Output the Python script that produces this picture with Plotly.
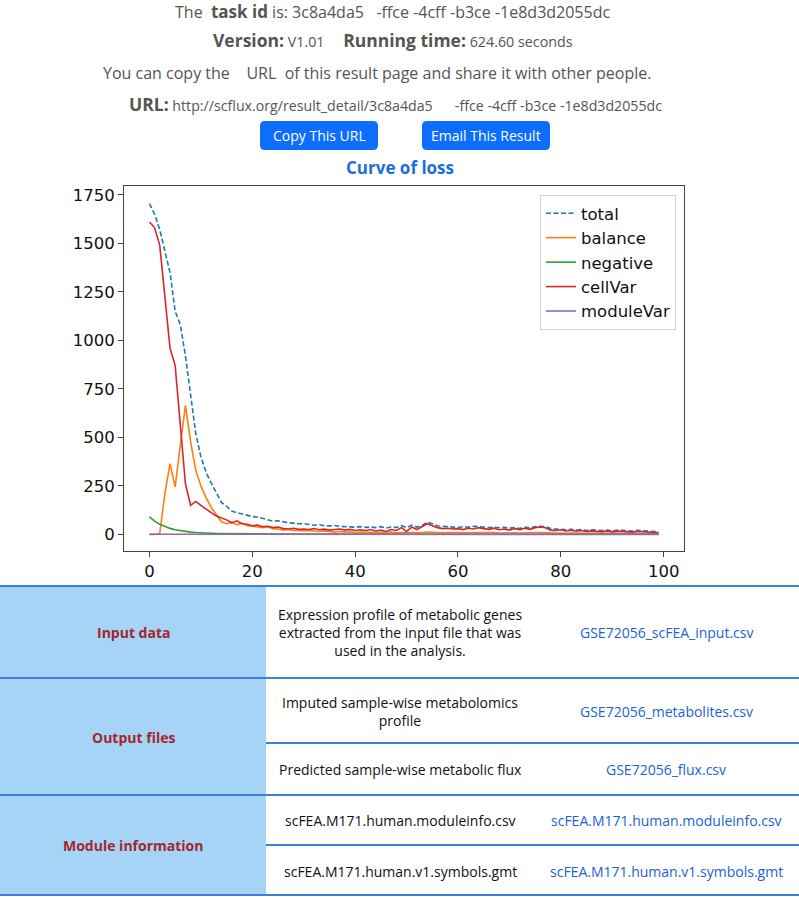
import plotly.graph_objects as go

W, H = 799, 897

# loss curves (epoch 0..99)
epochs = list(range(100))

total = [1705, 1650, 1570, 1460, 1350, 1150, 1080, 920, 720, 520,
         400, 320, 265, 215, 165, 145, 120, 112, 105, 97,
         92, 90, 82, 74, 68, 70, 64, 60, 58, 55,
         56, 50, 47, 50, 45, 44, 46, 42, 40, 41,
         37, 40, 36, 38, 35, 40, 33, 38, 36, 45,
         35, 48, 38, 45, 63, 55, 45, 42, 40, 38,
         36, 40, 37, 42, 40, 38, 35, 38, 34, 36,
         32, 35, 30, 38, 33, 40, 42, 40, 30, 28,
         26, 24, 26, 22, 25, 20, 24, 21, 20, 22,
         18, 22, 20, 19, 17, 21, 18, 16, 15, 14]

balance = [0, 0, 5, 210, 365, 245, 460, 665, 480, 330,
           250, 190, 140, 105, 65, 55, 62, 50, 58, 45,
           42, 38, 35, 40, 30, 28, 22, 25, 20, 22,
           18, 20, 16, 15, 18, 14, 12, 15, 12, 14,
           10, 12, 10, 11, 9, 10, 9, 12, 8, 10,
           9, 8, 10, 9, 12, 10, 9, 8, 10, 9,
           8, 10, 9, 8, 9, 10, 8, 9, 7, 8,
           9, 8, 7, 9, 8, 10, 9, 8, 7, 8,
           7, 6, 7, 6, 7, 6, 6, 7, 5, 6,
           6, 5, 6, 5, 5, 6, 5, 5, 4, 4]

negative = [90, 68, 52, 40, 31, 24, 19, 15, 12, 10,
            8, 7, 6, 5, 4.5, 4, 3.5, 3, 3, 2.5,
            2.5, 2.2, 2, 2, 1.9, 1.8, 1.7, 1.6, 1.5, 1.5,
            1.4, 1.4, 1.3, 1.3, 1.2, 1.2, 1.2, 1.1, 1.1, 1.1,
            1, 1, 1, 1, 1, 1, 1, 1, 1, 1,
            1, 1, 1, 1, 1, 1, 1, 1, 1, 1,
            1, 1, 1, 1, 1, 1, 1, 1, 1, 1,
            1, 1, 1, 1, 1, 1, 1, 1, 1, 1,
            1, 1, 1, 1, 1, 1, 1, 1, 1, 1,
            1, 1, 1, 1, 1, 1, 1, 1, 1, 1]

cell_var = [1610, 1580, 1490, 1220, 960, 870, 565, 260, 150, 170,
            150, 130, 112, 95, 85, 75, 60, 70, 55, 52,
            45, 48, 40, 42, 35, 38, 30, 28, 32, 26,
            28, 25, 30, 24, 27, 22, 25, 28, 22, 26,
            20, 24, 20, 25, 18, 22, 15, 25, 20, 35,
            15, 38, 25, 40, 55, 45, 35, 30, 32, 28,
            30, 25, 32, 28, 35, 30, 26, 32, 24, 28,
            22, 30, 25, 32, 26, 35, 38, 34, 22, 20,
            24, 18, 22, 16, 20, 15, 18, 16, 14, 18,
            13, 17, 15, 14, 12, 16, 13, 11, 10, 10]

module_var = [0.6, 0.6, 0.5, 0.5, 0.5, 0.5, 0.5, 0.5, 0.5, 0.5,
              0.5, 0.5, 0.5, 0.5, 0.5, 0.5, 0.5, 0.5, 0.5, 0.5,
              0.4, 0.4, 0.4, 0.4, 0.4, 0.4, 0.4, 0.4, 0.4, 0.4,
              0.4, 0.4, 0.4, 0.4, 0.4, 0.4, 0.4, 0.4, 0.4, 0.4,
              0.4, 0.4, 0.4, 0.4, 0.4, 0.4, 0.4, 0.4, 0.4, 0.4,
              0.3, 0.3, 0.3, 0.3, 0.3, 0.3, 0.3, 0.3, 0.3, 0.3,
              0.3, 0.3, 0.3, 0.3, 0.3, 0.3, 0.3, 0.3, 0.3, 0.3,
              0.3, 0.3, 0.3, 0.3, 0.3, 0.3, 0.3, 0.3, 0.3, 0.3,
              0.3, 0.3, 0.3, 0.3, 0.3, 0.3, 0.3, 0.3, 0.3, 0.3,
              0.3, 0.3, 0.3, 0.3, 0.3, 0.3, 0.3, 0.3, 0.3, 0.3]

series_names = ['total', 'balance', 'negative', 'cellVar', 'moduleVar']
series_colors = ['#1f77b4', '#ff7f0e', '#2ca02c', '#d62728', '#9467bd']

x_ticks = [0, 20, 40, 60, 80, 100]
y_ticks = [0, 250, 500, 750, 1000, 1250, 1500, 1750]

# table text
row_labels = ['Input data', 'Output files', 'Module information']
file_desc = ['Expression profile of metabolic genes<br>extracted from the input file that was<br>used in the analysis.',
             'Imputed sample-wise metabolomics<br>profile',
             'Predicted sample-wise metabolic flux',
             'scFEA.M171.human.moduleinfo.csv',
             'scFEA.M171.human.v1.symbols.gmt']
file_names = ['GSE72056_scFEA_input.csv', 'GSE72056_metabolites.csv',
              'GSE72056_flux.csv', 'scFEA.M171.human.moduleinfo.csv',
              'scFEA.M171.human.v1.symbols.gmt']


def px(x):
    return x / W


def py(y):
    return 1 - y / H


PAGE_FONT = 'Open Sans'
GREY = '#555555'
BLUE_BTN = '#0d6efd'
LINK = '#1a62d6'
LABEL_RED = '#a3262d'
TABLE_LINE = '#3f7fd6'

fig = go.Figure()

all_series = [total, balance, negative, cell_var, module_var]
for name, color, vals in zip(series_names, series_colors, all_series):
    fig.add_trace(go.Scatter(
        x=epochs, y=vals, name=name, mode='lines',
        line=dict(color=color, width=1.6,
                  dash='5px,2.5px' if name == 'total' else 'solid')))

fig.update_layout(
    width=W, height=H,
    margin=dict(l=0, r=0, t=0, b=0),
    paper_bgcolor='white', plot_bgcolor='white',
    font=dict(family='DejaVu Sans', color='#111'),
    showlegend=True,
    legend=dict(x=px(676), y=py(195), xanchor='right', yanchor='top',
                bgcolor='white', bordercolor='#d4d4d4', borderwidth=1,
                font=dict(family='DejaVu Sans', size=16.5, color='#111'),
                tracegroupgap=0),
    xaxis=dict(domain=[px(124), px(684)], range=[-4.95, 103.95],
               tickvals=x_ticks, showgrid=False, zeroline=False,
               showline=True, mirror=True, linecolor='#444', linewidth=1,
               ticks='outside', ticklen=5, tickcolor='#444',
               tickfont=dict(size=16.5, color='#111')),
    yaxis=dict(domain=[py(551), py(186)], range=[-85.5, 1795.5],
               tickvals=y_ticks, showgrid=False, zeroline=False,
               showline=True, mirror=True, linecolor='#444', linewidth=1,
               ticks='outside', ticklen=5, tickcolor='#444',
               tickfont=dict(size=16.5, color='#111')),
)


def note(text, x, y, size, color=GREY, family=PAGE_FONT, xanchor='center'):
    fig.add_annotation(text=text, x=px(x), y=py(y), xref='paper', yref='paper',
                       xanchor=xanchor, yanchor='middle', showarrow=False,
                       font=dict(family=family, size=size, color=color))


nb = '\u00a0'
# header lines
note('The' + nb * 2 + '<b><span style="font-size:17px">task id</span></b> is: 3c8a4da5'
     + nb * 3 + '-ffce -4cff -b3ce -1e8d3d2055dc', 392, 11, 16)
note('<b><span style="font-size:17.5px">Version:</span></b> V1.01' + nb * 5
     + '<b><span style="font-size:17.5px">Running time:</span></b> 624.60 seconds', 393, 40, 14.3)
note('You can copy the' + nb * 4 + 'URL' + nb * 2
     + 'of this result page and share it with other people.', 377, 73, 16)
note('<b><span style="font-size:17.5px">URL:</span></b> http://scflux.org/result_detail/3c8a4da5'
     + nb * 6 + '-ffce -4cff -b3ce -1e8d3d2055dc', 395, 104, 14.2)


def rounded_rect(x0, y0, x1, y1, r):
    rx, ry = r / W, r / H
    a0, a1 = px(x0), px(x1)
    b0, b1 = py(y1), py(y0)
    return (f'M {a0 + rx},{b0} L {a1 - rx},{b0} Q {a1},{b0} {a1},{b0 + ry} '
            f'L {a1},{b1 - ry} Q {a1},{b1} {a1 - rx},{b1} '
            f'L {a0 + rx},{b1} Q {a0},{b1} {a0},{b1 - ry} '
            f'L {a0},{b0 + ry} Q {a0},{b0} {a0 + rx},{b0} Z')


for label, (x0, x1) in zip(['Copy This URL', 'Email This Result'], [(260, 378), (422, 550)]):
    fig.add_shape(type='path', path=rounded_rect(x0, 121, x1, 150, 5),
                  xref='paper', yref='paper', fillcolor=BLUE_BTN, line=dict(width=0),
                  layer='below')
    note(label, (x0 + x1) / 2, 136, 14, color='white')

note('<b>Curve of loss</b>', 400, 167, 17, color='#1b6fd8')

# table
fig.add_shape(type='rect', x0=0, x1=px(266), y0=py(895), y1=py(586),
              xref='paper', yref='paper', fillcolor='#a6d4f6', line=dict(width=0),
              layer='below')
for y in [586, 678, 795, 895]:
    fig.add_shape(type='line', x0=0, x1=1, y0=py(y), y1=py(y), xref='paper',
                  yref='paper', line=dict(color=TABLE_LINE, width=2))
for y in [743, 845]:
    fig.add_shape(type='line', x0=px(266), x1=1, y0=py(y), y1=py(y), xref='paper',
                  yref='paper', line=dict(color=TABLE_LINE, width=2))

for label, y in zip(row_labels, [632, 737, 845]):
    note('<b>' + label + '</b>', 133, y, 14, color=LABEL_RED)

for desc, fname, y in zip(file_desc, file_names, [632, 711, 769, 820, 871]):
    note(desc, 400, y, 14, color='#111')
    note(fname, 666, y, 14, color=LINK)

# the page is a full-window layout, so drop the browser's default body margin
fig.write_html("out.html", config={'displayModeBar': False},
               post_script="document.body.style.margin = '0px';")
